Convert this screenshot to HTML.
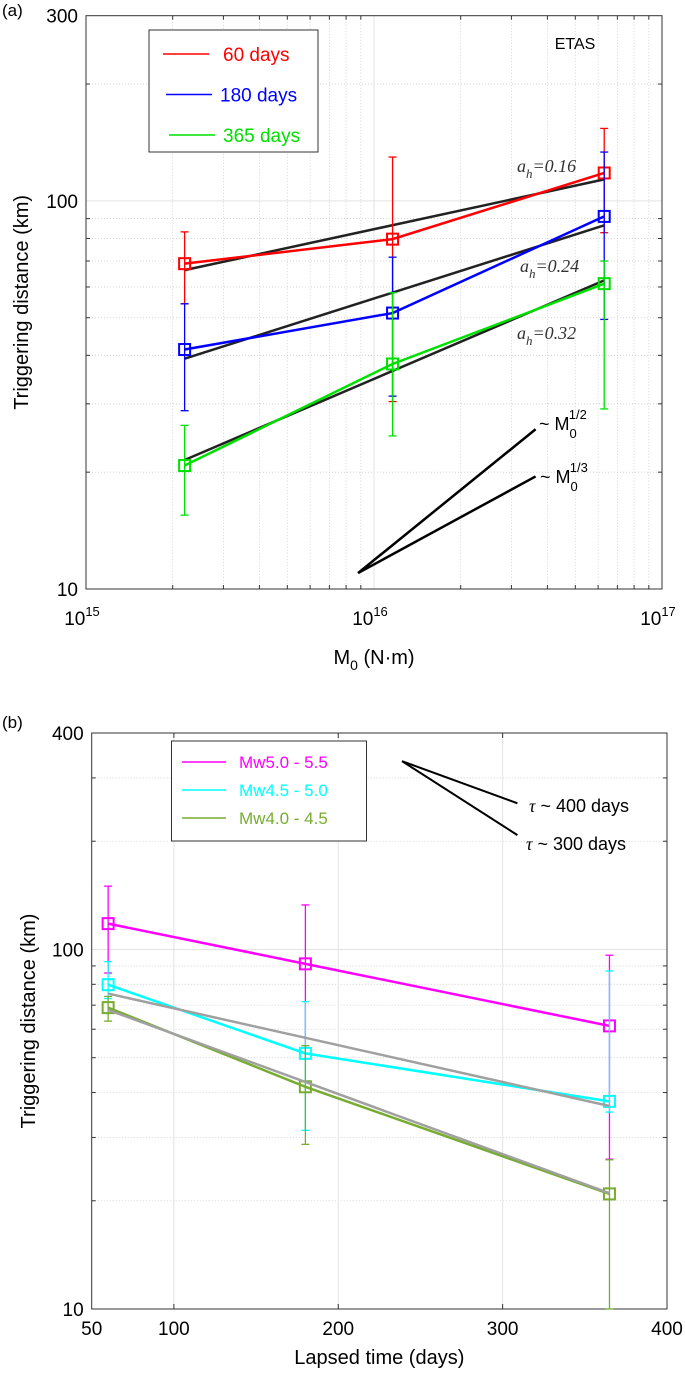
<!DOCTYPE html>
<html><head><meta charset="utf-8"><style>
html,body{margin:0;padding:0;background:#fff;}
svg{display:block;font-family:"Liberation Sans",sans-serif;}
</style></head><body>
<svg id="s" width="685" height="1374" viewBox="0 0 685 1374">
<g id="gA"></g>
<g id="gB"></g>
</svg>
<script>
// ---- Panel (a) data ----
const aX = [2.2e15, 1.16e16, 6.3e16];
const aSeriesNames = ["60 days", "180 days", "365 days"];
const a60 = [68.9, 79.7, 118];
const a60Lo = [54.3, 30.4, 82.8];
const a60Hi = [83.2, 129.7, 153.7];
const a180 = [41.4, 51.4, 91.2];
const a180Lo = [28.8, 31.4, 49.5];
const a180Hi = [54.3, 71.6, 133.6];
const a365 = [20.8, 38.0, 61.2];
const a365Lo = [15.5, 24.8, 29.1];
const a365Hi = [26.4, 58, 70];
const aFit1 = [66.3, 113.6];
const aFit2 = [39.2, 86.5];
const aFit3 = [21.5, 62.4];
const aFitLabels = ["0.16", "0.24", "0.32"];
const aSlopeX = [8.8e15, 3.64e16];
const aSlopeHalfY = [10.99, 25.8];
const aSlopeThirdY = [10.99, 19.5];
const aYTicks = [10, 100, 300];
const aXTickExp = [15, 16, 17];
// ---- Panel (b) data ----
const bX = [60, 180, 365];
const bNames = ["Mw5.0 - 5.5", "Mw4.5 - 5.0", "Mw4.0 - 4.5"];
const bM = [118, 91.2, 61.3];
const bMLo = [86, 49.6, 26.1];
const bMHi = [150, 133, 96.4];
const bC = [79.8, 51.4, 37.8];
const bCLo = [73, 31.4, 35.3];
const bCHi = [92.5, 71.6, 87.1];
const bG = [68.9, 41.5, 20.9];
const bGLo = [63.2, 28.7, 10];
const bGHi = [74, 54, 26];
const bFit1 = [75.4, 36.7];
const bFit2 = [67.9, 21.0];
const bTauX = [238.8, 309];
const bTau400Y = [334, 255];
const bTau300Y = [334, 208];
const bXTicks = [50, 100, 200, 300, 400];
const bYTicks = [10, 100, 400];

const NS = "http://www.w3.org/2000/svg";
function mk(parent, tag, attrs, text) {
  const e = document.createElementNS(NS, tag);
  for (const k in attrs) e.setAttribute(k, attrs[k]);
  if (text !== undefined) e.textContent = text;
  parent.appendChild(e);
  return e;
}

// ===== Panel A =====
(function(){
  const g = document.getElementById('gA');
  const L=86,R=662,T=15.7,B=589;
  const xs = v => L + (Math.log10(v)-15)/2*(R-L);
  const ys = v => B - (Math.log10(v)-1)/Math.log10(30)*(B-T);
  for (let e=15;e<17;e++) for (let m=2;m<10;m++){
    const x=xs(m*Math.pow(10,e));
    const l=mk(g,'line',{x1:x,x2:x,y1:T,y2:B,stroke:'#ccc','stroke-dasharray':'1,2','stroke-width':0.8});
    
    
  }
  [20,30,40,50,60,70,80,90,200].forEach(v=>{
    const y=ys(v);
    const l=mk(g,'line',{x1:L,x2:R,y1:y,y2:y,stroke:'#ccc','stroke-dasharray':'1,2','stroke-width':0.8});
    
    
  });
  let gl=mk(g,'line',{x1:xs(1e16),x2:xs(1e16),y1:T,y2:B,stroke:'#e3e3e3','stroke-width':1});
   
  gl=mk(g,'line',{x1:L,x2:R,y1:ys(100),y2:ys(100),stroke:'#e3e3e3','stroke-width':1});
   
  for (let e=15;e<17;e++) for (let m=2;m<10;m++){
    const x=xs(m*Math.pow(10,e));
    mk(g,'line',{x1:x,x2:x,y1:B,y2:B-4,stroke:'#333'}); mk(g,'line',{x1:x,x2:x,y1:T,y2:T+4,stroke:'#333'});
  }
  [20,30,40,50,60,70,80,90,200].forEach(v=>{const y=ys(v);
    mk(g,'line',{x1:L,x2:L+4,y1:y,y2:y,stroke:'#333'}); mk(g,'line',{x1:R,x2:R-4,y1:y,y2:y,stroke:'#333'});});
  const box=mk(g,'rect',{x:L,y:T,width:R-L,height:B-T,fill:'none',stroke:'#333','stroke-width':1});
   
  aYTicks.forEach(v=>{
    const t=mk(g,'text',{x:L-8,y:ys(v)+7,'text-anchor':'end','font-size':19},String(v));
     
  });
  aXTickExp.forEach(e=>{
    const t=mk(g,'text',{x:xs(Math.pow(10,e))-4,y:B+36,'text-anchor':'middle','font-size':19},'10');
    mk(t,'tspan',{dy:-9,'font-size':13},String(e));
     
  });
  let t=mk(g,'text',{x:2,y:16,'font-size':17},'(a)');
   
  t=mk(g,'text',{x:0,y:0,'font-size':20,'text-anchor':'middle',transform:`translate(28,${(T+B)/2}) rotate(-90)`},'Triggering distance (km)');
   
  t=mk(g,'text',{x:(L+R)/2,y:664,'font-size':20,'text-anchor':'middle'},'M');
  mk(t,'tspan',{dy:6,'font-size':14},'0'); mk(t,'tspan',{dy:-6},' (N·m)');
   
  t=mk(g,'text',{x:575,y:49,'font-size':16,'text-anchor':'middle'},'ETAS');
   
  [[aFit1,'fit-line-016'],[aFit2,'fit-line-024'],[aFit3,'fit-line-032']].forEach(([f,n])=>{
    const l=mk(g,'line',{x1:xs(aX[0]),y1:ys(f[0]),x2:xs(aX[2]),y2:ys(f[1]),stroke:'#222','stroke-width':2.5});
     
  });
  const ser=[[a60,a60Lo,a60Hi,'#ff0000','series-60-days'],[a180,a180Lo,a180Hi,'#0000ff','series-180-days'],[a365,a365Lo,a365Hi,'#00e000','series-365-days']];
  ser.forEach(([v,lo,hi,c,n])=>{
    const sg=mk(g,'g',{});
     
    aX.forEach((x,i)=>{
      const px=xs(x);
      mk(sg,'line',{x1:px,x2:px,y1:ys(lo[i]),y2:ys(hi[i]),stroke:c,'stroke-width':1.3});
      mk(sg,'line',{x1:px-4,x2:px+4,y1:ys(lo[i]),y2:ys(lo[i]),stroke:c,'stroke-width':1.3});
      mk(sg,'line',{x1:px-4,x2:px+4,y1:ys(hi[i]),y2:ys(hi[i]),stroke:c,'stroke-width':1.3});
    });
    mk(sg,'polyline',{points:aX.map((x,i)=>xs(x)+','+ys(v[i])).join(' '),fill:'none',stroke:c,'stroke-width':2.5});
    aX.forEach((x,i)=>{
      const m=mk(sg,'rect',{x:xs(x)-5.5,y:ys(v[i])-5.5,width:11,height:11,fill:'none',stroke:c,'stroke-width':2});
       
    });
  });
  let l=mk(g,'line',{x1:xs(aSlopeX[0]),y1:ys(aSlopeHalfY[0]),x2:xs(aSlopeX[1]),y2:ys(aSlopeHalfY[1]),stroke:'#000','stroke-width':2.5});
   
  l=mk(g,'line',{x1:xs(aSlopeX[0]),y1:ys(aSlopeThirdY[0]),x2:xs(aSlopeX[1]),y2:ys(aSlopeThirdY[1]),stroke:'#000','stroke-width':2.5});
   
  t=mk(g,'text',{x:539,y:430,'font-size':18},'~ M');
  mk(t,'tspan',{dy:8,'font-size':13},'0'); mk(t,'tspan',{dy:-19,dx:-8,'font-size':13},'1/2');
   
  t=mk(g,'text',{x:540,y:483,'font-size':18},'~ M');
  mk(t,'tspan',{dy:8,'font-size':13},'0'); mk(t,'tspan',{dy:-19,dx:-8,'font-size':13},'1/3');
   
  [[517,172],[520,272],[517,339]].forEach((p,i)=>{
    const tt=mk(g,'text',{x:p[0],y:p[1],'font-size':18,'font-style':'italic','font-family':'"Liberation Serif",serif',fill:'#333'},'a');
    mk(tt,'tspan',{dy:6,'font-size':13},'h'); mk(tt,'tspan',{dy:-6},'='+aFitLabels[i]);
     
  });
  const lg=mk(g,'g',{});
   
  mk(lg,'rect',{x:149,y:30,width:169,height:122,fill:'#fff',stroke:'#333','stroke-width':1});
  const lc=['#ff0000','#0000ff','#00e000'];
  const lx=[223,220,223];
  aSeriesNames.forEach((n,i)=>{
    const y=54+i*40.5;
    mk(lg,'line',{x1:163+i*3,x2:209+i*3,y1:y,y2:y,stroke:lc[i],'stroke-width':1.5});
    const e=mk(lg,'text',{x:lx[i],y:y+7,'font-size':19,fill:lc[i]},n);
     
  });
})();

// ===== Panel B =====
(function(){
  const g=document.getElementById('gB');
  const L=91.7,R=667,T=733,B=1309;
  const xs=v=>L+(v-50)/350*(R-L);
  const ys=v=>B-(Math.log10(v)-1)/Math.log10(40)*(B-T);
  [20,30,40,50,60,70,80,90,200,300].forEach(v=>{const y=ys(v);
    const l=mk(g,'line',{x1:L,x2:R,y1:y,y2:y,stroke:'#ccc','stroke-dasharray':'1,2','stroke-width':0.8});
     
    mk(g,'line',{x1:L,x2:L+4,y1:y,y2:y,stroke:'#333'}); mk(g,'line',{x1:R,x2:R-4,y1:y,y2:y,stroke:'#333'});
  });
  [100,200,300].forEach(v=>{
    const l=mk(g,'line',{x1:xs(v),x2:xs(v),y1:T,y2:B,stroke:'#e3e3e3','stroke-width':1});
     
    mk(g,'line',{x1:xs(v),x2:xs(v),y1:B,y2:B-5,stroke:'#333'});
    mk(g,'line',{x1:xs(v),x2:xs(v),y1:T,y2:T+5,stroke:'#333'});
  });
  let l=mk(g,'line',{x1:L,x2:R,y1:ys(100),y2:ys(100),stroke:'#e3e3e3','stroke-width':1});
   
  const box=mk(g,'rect',{x:L,y:T,width:R-L,height:B-T,fill:'none',stroke:'#333','stroke-width':1});
   
  bYTicks.forEach(v=>{
    const t=mk(g,'text',{x:L-8,y:ys(v)+7,'text-anchor':'end','font-size':19},String(v));
     
  });
  bXTicks.forEach(v=>{
    const t=mk(g,'text',{x:xs(v),y:B+26,'text-anchor':'middle','font-size':19},String(v));
     
  });
  let t=mk(g,'text',{x:2,y:728,'font-size':17},'(b)');
   
  t=mk(g,'text',{x:0,y:0,'font-size':20,'text-anchor':'middle',transform:`translate(35,${(T+B)/2}) rotate(-90)`},'Triggering distance (km)');
   
  t=mk(g,'text',{x:(L+R)/2,y:B+55,'font-size':20,'text-anchor':'middle'},'Lapsed time (days)');
   
  const ser=[[bM,bMLo,bMHi,'#ff00ff','series-mw50-55'],[bC,bCLo,bCHi,'#00ffff','series-mw45-50'],[bG,bGLo,bGHi,'#77ac30','series-mw40-45']];
  ser.forEach(([v,lo,hi,c,n])=>{
    const sg=mk(g,'g',{});
     
    bX.forEach((x,i)=>{
      const px=xs(x);
      mk(sg,'line',{x1:px,x2:px,y1:ys(lo[i]),y2:ys(hi[i]),stroke:c,'stroke-width':1.3});
      mk(sg,'line',{x1:px-4,x2:px+4,y1:ys(lo[i]),y2:ys(lo[i]),stroke:c,'stroke-width':1.3});
      mk(sg,'line',{x1:px-4,x2:px+4,y1:ys(hi[i]),y2:ys(hi[i]),stroke:c,'stroke-width':1.3});
    });
    mk(sg,'polyline',{points:bX.map((x,i)=>xs(x)+','+ys(v[i])).join(' '),fill:'none',stroke:c,'stroke-width':2.5});
    bX.forEach((x,i)=>{
      const m=mk(sg,'rect',{x:xs(x)-5.5,y:ys(v[i])-5.5,width:11,height:11,fill:'none',stroke:c,'stroke-width':2});
       
    });
  });
  [[bFit1,'fit-line-upper'],[bFit2,'fit-line-lower']].forEach(([f,n])=>{
    const ln=mk(g,'line',{x1:xs(bX[0]),y1:ys(f[0]),x2:xs(bX[2]),y2:ys(f[1]),stroke:'#a0a0a0','stroke-width':2.5});
     
  });
  l=mk(g,'line',{x1:xs(bTauX[0]),y1:ys(bTau400Y[0]),x2:xs(bTauX[1]),y2:ys(bTau400Y[1]),stroke:'#000','stroke-width':2});
   
  l=mk(g,'line',{x1:xs(bTauX[0]),y1:ys(bTau300Y[0]),x2:xs(bTauX[1]),y2:ys(bTau300Y[1]),stroke:'#000','stroke-width':2});
   
  t=mk(g,'text',{x:529,y:812,'font-size':18},'');
  mk(t,'tspan',{'font-family':'"Liberation Serif",serif','font-style':'italic'},'τ'); mk(t,'tspan',{},' ~ 400 days');
   
  t=mk(g,'text',{x:526,y:850,'font-size':18},'');
  mk(t,'tspan',{'font-family':'"Liberation Serif",serif','font-style':'italic'},'τ'); mk(t,'tspan',{},' ~ 300 days');
   
  const lg=mk(g,'g',{});
   
  mk(lg,'rect',{x:171.5,y:741,width:195,height:100,fill:'#fff',stroke:'#333','stroke-width':1});
  const lc=['#ff00ff','#00ffff','#77ac30'];
  bNames.forEach((n,i)=>{
    const y=762+i*28;
    mk(lg,'line',{x1:182,x2:226,y1:y,y2:y,stroke:lc[i],'stroke-width':1.5});
    const e=mk(lg,'text',{x:239,y:y+6,'font-size':17,fill:lc[i]},n);
     
  });
})();
</script>
</body></html>
